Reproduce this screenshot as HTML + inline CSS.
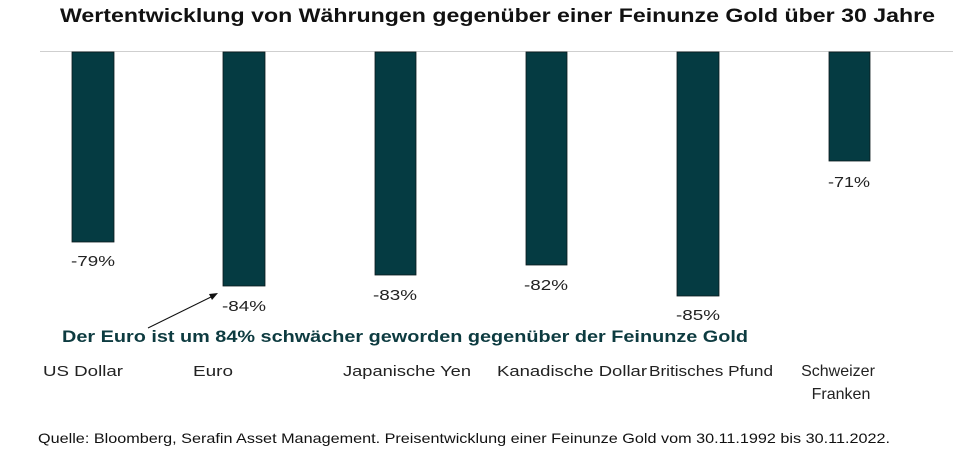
<!DOCTYPE html>
<html><head><meta charset="utf-8"><style>
body{margin:0;background:#fff;width:960px;height:454px;overflow:hidden;font-family:"Liberation Sans",sans-serif}
</style></head><body>
<svg width="960" height="454" xmlns="http://www.w3.org/2000/svg" font-family="Liberation Sans, sans-serif">
<text x="60" y="22" font-size="19" font-weight="bold" fill="#111" textLength="875" lengthAdjust="spacingAndGlyphs">Wertentwicklung von Währungen gegenüber einer Feinunze Gold über 30 Jahre</text>
<line x1="40" y1="51.5" x2="953" y2="51.5" stroke="#cfcfcf" stroke-width="1"/>
<g fill="#053b42" stroke="#0a1a1c" stroke-width="0.8">
<rect x="72" y="52" width="42" height="190"/>
<rect x="223" y="52" width="42" height="234"/>
<rect x="375" y="52" width="41" height="223"/>
<rect x="526" y="52" width="41" height="213"/>
<rect x="677" y="52" width="42" height="244"/>
<rect x="829" y="52" width="41" height="109"/>
</g>
<g font-size="15" fill="#222" text-anchor="middle">
<text x="93" y="266" textLength="44" lengthAdjust="spacingAndGlyphs">-79%</text>
<text x="244" y="311" textLength="44" lengthAdjust="spacingAndGlyphs">-84%</text>
<text x="395" y="300" textLength="44" lengthAdjust="spacingAndGlyphs">-83%</text>
<text x="546" y="290" textLength="44" lengthAdjust="spacingAndGlyphs">-82%</text>
<text x="698" y="320" textLength="44" lengthAdjust="spacingAndGlyphs">-85%</text>
<text x="849" y="187" textLength="42" lengthAdjust="spacingAndGlyphs">-71%</text>
</g>
<line x1="148" y1="328" x2="213" y2="296" stroke="#111" stroke-width="1"/>
<polygon points="218,293 209,294 212,300" fill="#111"/>
<text x="62" y="342" font-size="17" font-weight="bold" fill="#0d3b40" textLength="686" lengthAdjust="spacingAndGlyphs">Der Euro ist um 84% schwächer geworden gegenüber der Feinunze Gold</text>
<g font-size="15" fill="#222">
<text x="43" y="376" textLength="80" lengthAdjust="spacingAndGlyphs">US Dollar</text>
<text x="193" y="376" textLength="40" lengthAdjust="spacingAndGlyphs">Euro</text>
<text x="343" y="376" textLength="128" lengthAdjust="spacingAndGlyphs">Japanische Yen</text>
<text x="497" y="376" textLength="150" lengthAdjust="spacingAndGlyphs">Kanadische Dollar</text>
<text x="649" y="376" textLength="124" lengthAdjust="spacingAndGlyphs">Britisches Pfund</text>
<text x="838" y="376" text-anchor="middle" font-size="16">Schweizer</text>
<text x="841" y="399" text-anchor="middle" font-size="16">Franken</text>
</g>
<text x="38" y="443" font-size="14" fill="#111" textLength="852" lengthAdjust="spacingAndGlyphs">Quelle: Bloomberg, Serafin Asset Management. Preisentwicklung einer Feinunze Gold vom 30.11.1992 bis 30.11.2022.</text>
</svg>
</body></html>
